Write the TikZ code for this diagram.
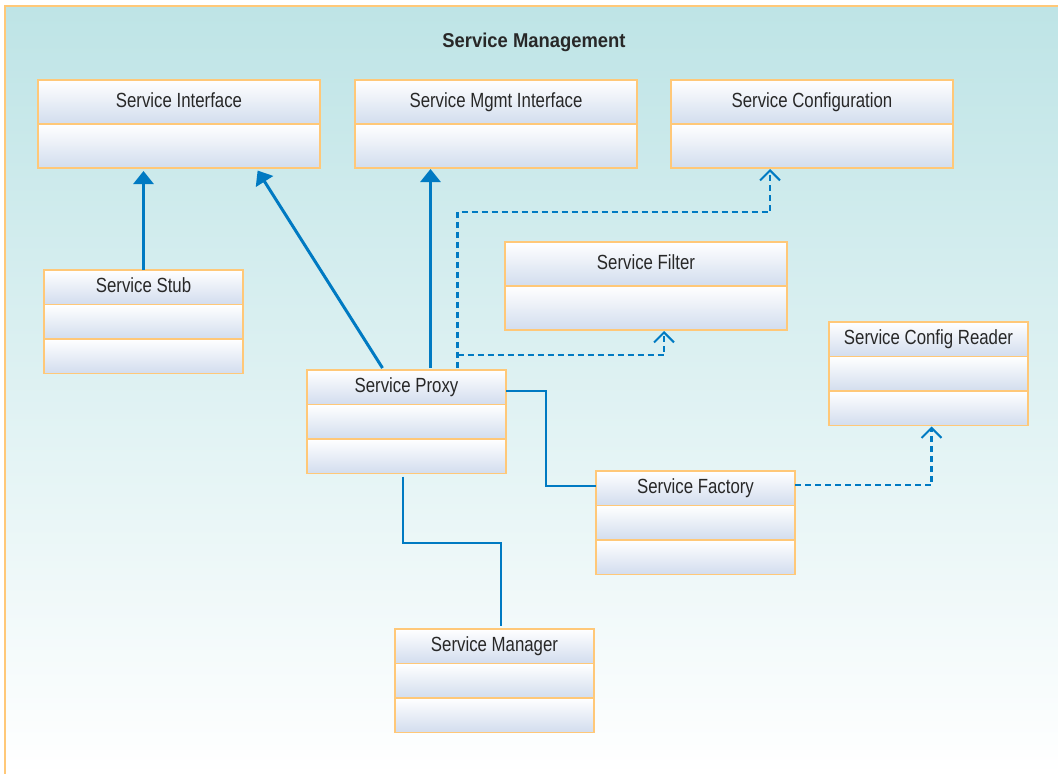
\documentclass[tikz,border=0pt]{standalone}
\usepackage{fontspec}
\newfontfamily\classfont[FakeStretch=0.82]{Liberation Sans}
\newfontfamily\titlefont[FakeStretch=0.92]{Liberation Sans}
\usetikzlibrary{positioning,arrows.meta}

\definecolor{bgteal}{RGB}{190,228,230}
\definecolor{boxorange}{RGB}{255,200,120}
\definecolor{boxblue}{RGB}{210,221,238}
\definecolor{linkblue}{RGB}{0,122,194}
\definecolor{textgray}{RGB}{40,40,40}

\tikzset{
  classbox/.style={draw=boxorange, line width=1.6pt, top color=white, bottom color=boxblue,
    inner sep=0pt, outer sep=0pt, text=textgray, text height=15pt, text depth=5pt,
    font=\classfont\fontsize{20.5}{24}\selectfont},
  widepart/.style={classbox, minimum width=282pt, minimum height=44pt},
  narrowpart/.style={classbox, minimum width=199pt, minimum height=34.5pt},
  genarrow/.style={linkblue, line width=3pt, -{Triangle[width=20pt,length=13pt]}, shorten >=3pt},
  deparrow/.style={linkblue, line width=2.4pt, dash pattern=on 6pt off 4pt,
    -{Straight Barb[width=20pt,length=10pt,line width=2pt]}, shorten >=1pt},
  assocline/.style={linkblue, line width=2pt}
}

\begin{document}
\begin{tikzpicture}[x=1pt, y=-1pt]
    \useasboundingbox (0,0) rectangle (1058,774);

    % Package frame with its title
    \shade[top color=bgteal, bottom color=white] (5,6) rectangle (1058,774);
    \draw[boxorange, line width=2pt] (5,774) -- (5,6) -- (1058,6);
    \node (title) at (534,42) {\titlefont\bfseries\fontsize{20}{24}\selectfont\color{textgray}Service Management};

    % Interfaces along the top row
    \node[widepart, anchor=north west] (intf) at (38,80) {Service Interface};
    \node[widepart, below=0pt of intf] (intf1) {};
    \node[widepart, anchor=north west] (mgmt) at (355,80) {Service Mgmt Interface};
    \node[widepart, below=0pt of mgmt] (mgmt1) {};
    \node[widepart, anchor=north west] (config) at (671,80) {Service Configuration};
    \node[widepart, below=0pt of config] (config1) {};

    % Filter
    \node[widepart, anchor=north west] (filter) at (505,242) {Service Filter};
    \node[widepart, below=0pt of filter] (filter1) {};

    % Three-part classes
    \node[narrowpart, anchor=north west] (stub) at (44,270) {Service Stub};
    \node[narrowpart, below=0pt of stub] (stub1) {};
    \node[narrowpart, below=0pt of stub1] (stub2) {};

    \node[narrowpart, anchor=north west] (reader) at (829,322) {Service Config Reader};
    \node[narrowpart, below=0pt of reader] (reader1) {};
    \node[narrowpart, below=0pt of reader1] (reader2) {};

    \node[narrowpart, anchor=north west] (proxy) at (307,370) {Service Proxy};
    \node[narrowpart, below=0pt of proxy] (proxy1) {};
    \node[narrowpart, below=0pt of proxy1] (proxy2) {};

    \node[narrowpart, anchor=north west] (factory) at (596,471) {Service Factory};
    \node[narrowpart, below=0pt of factory] (factory1) {};
    \node[narrowpart, below=0pt of factory1] (factory2) {};

    \node[narrowpart, anchor=north west] (manager) at (395,629) {Service Manager};
    \node[narrowpart, below=0pt of manager] (manager1) {};
    \node[narrowpart, below=0pt of manager1] (manager2) {};

    % Generalisations
    \draw[genarrow] (stub.north) -- (stub.north |- intf1.south);
    \draw[genarrow] ([xshift=-24pt,yshift=2pt]proxy.north) -- ([xshift=77pt]intf1.south);
    \draw[genarrow] ([xshift=24pt,yshift=2pt]proxy.north) -- ([xshift=24pt,yshift=2pt]proxy.north |- mgmt1.south);

    % Dependencies
    \coordinate (dep) at ([xshift=51pt,yshift=2pt]proxy.north);
    \draw[deparrow] (dep) |- ([xshift=-42pt,yshift=-44pt]config1.south) -- ([xshift=-42pt]config1.south);
    \draw[deparrow] ([yshift=13pt]dep) -| ([xshift=18pt]filter1.south);
    \draw[deparrow] ([yshift=3pt]factory.east) -| ([xshift=3pt]reader2.south);

    % Associations
    \draw[assocline] ([yshift=-4pt]proxy.east) -- ++(40,0) |- ([yshift=2pt]factory.west);
    \draw[assocline] ([xshift=-4pt,yshift=-3pt]proxy2.south) -- ++(0,66) -| ([xshift=6pt,yshift=3pt]manager.north);
\end{tikzpicture}
\end{document}
